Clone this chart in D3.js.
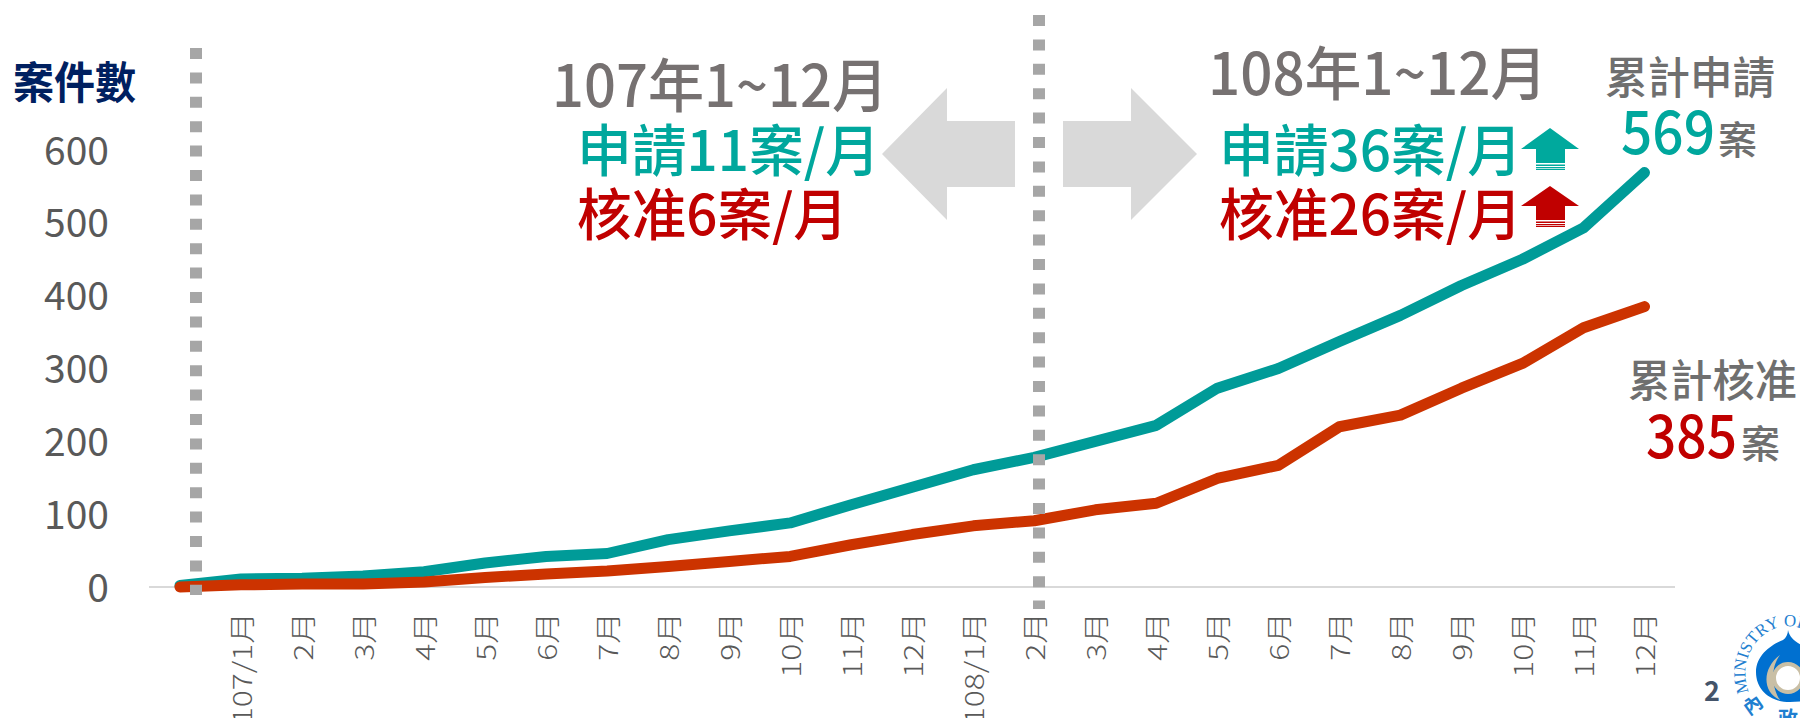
<!DOCTYPE html>
<html><head><meta charset="utf-8">
<script src="https://cdn.jsdelivr.net/npm/d3@7"></script>
<style>
html,body{margin:0;padding:0;background:#fff;overflow:hidden}
svg{display:block}
text{font-family:"Noto Sans CJK TC","Noto Sans",sans-serif}
.domain{display:none}
</style></head><body>
<svg id="c" width="1800" height="718"></svg>
<script>
const monthLabels = ["","107/1月","2月","3月","4月","5月","6月","7月","8月","9月","10月","11月","12月","108/1月","2月","3月","4月","5月","6月","7月","8月","9月","10月","11月","12月"];
const applied  = [2,11,12,15,21,33,42,46,65,77,88,113,137,161,178,200,222,273,300,337,373,414,450,493,569];
const approved = [0,3,4,4,7,13,18,22,28,35,42,58,72,84,91,106,115,149,167,220,236,273,307,356,385];
const yTicks = [0,100,200,300,400,500,600];

const svg = d3.select("#c");
const x = d3.scaleLinear().domain([0,24]).range([180,1644.5]);
const y = d3.scaleLinear().domain([0,600]).range([587,150]);

// y axis
const gy = svg.append("g").attr("transform","translate(109,0)")
  .call(d3.axisLeft(y).tickValues(yTicks).tickSize(0).tickPadding(0));
gy.selectAll("text").attr("font-size",39).attr("fill","#595959").attr("dy","0.36em");

// x axis
svg.append("line").attr("x1",149).attr("x2",1675).attr("y1",587).attr("y2",587).attr("stroke","#d9d9d9").attr("stroke-width",2);
const ax = d3.axisBottom(x).tickValues(d3.range(1,25)).tickSize(0).tickFormat(i=>monthLabels[i]);
const gx = svg.append("g").attr("transform","translate(0,587)").call(ax);
gx.selectAll("text").attr("font-size",26).attr("font-weight",300).attr("fill","#595959")
  .attr("text-anchor","end").attr("dy",null).attr("x",0).attr("y",0)
  .attr("transform","translate(10,25) rotate(-90) scale(1.22,1)");

// lines
const line = d3.line().x((d,i)=>x(i)).y(d=>y(d));
svg.append("path").datum(applied).attr("d",line).attr("fill","none").attr("stroke","#009b98").attr("stroke-width",11).attr("stroke-linecap","round").attr("stroke-linejoin","round");
svg.append("path").datum(approved).attr("d",line).attr("fill","none").attr("stroke","#cc3300").attr("stroke-width",11).attr("stroke-linecap","round").attr("stroke-linejoin","round");

// dividers
[[196,48,595],[1039,15,609]].forEach(([px,a,b])=>svg.append("line").attr("x1",px).attr("x2",px).attr("y1",a).attr("y2",b)
  .attr("stroke","#a6a6a6").attr("stroke-width",12).attr("stroke-dasharray","11 13.4"));

// big arrows
const poly=(pts,f)=>svg.append("polygon").attr("points",pts.map(p=>p.join(",")).join(" ")).attr("fill",f);
poly([[882,154],[947,88],[947,121],[1015,121],[1015,187],[947,187],[947,220]],"#d9d9d9");
poly([[1197,154],[1131,88],[1131,121],[1063,121],[1063,187],[1131,187],[1131,220]],"#d9d9d9");

// small arrows
function up(top,base,sb,color){
  poly([[1550,top],[1579,base],[1565,base],[1565,sb],[1536,sb],[1536,base],[1521,base]],color);
  [[sb+1.5,1.5],[sb+4,1.3],[sb+6,1]].forEach(([yy,h])=>svg.append("rect").attr("x",1536).attr("y",yy).attr("width",29).attr("height",h).attr("fill",color));
}
up(128,149,163,"#00a99d");
up(186,206,220,"#c00000");

// texts
function t(s,x0,x1,base,size,fill,weight){
  const e=svg.append("text").attr("x",x0).attr("y",base).attr("font-size",size).attr("fill",fill).text(s);
  if(weight)e.attr("font-weight",weight);
  e.attr("textLength",x1-x0).attr("lengthAdjust","spacingAndGlyphs");
  return e;
}
const gray="#767171",teal="#00a79d",red="#c00000",sub="#6f6f6f";
t("案件數",13,136,99,44,"#002060",700);
t("107年1~12月",552,888,107,58,gray,500);
t("申請11案/月",577,880,171,56,teal,500);
t("核准6案/月",577,848,235,56,red,500);
t("108年1~12月",1208,1547,95,58,gray,500);
t("申請36案/月",1219,1522,171,56,teal,500);
t("核准26案/月",1219,1522,235,56,red,500);
t("累計申請",1605,1775,94,44,sub,500);
t("569",1621,1715,154,60,teal,500);
t("案",1718,1757,154,39,sub,500);
t("累計核准",1628,1797,397,44,sub,500);
t("385",1646,1737,458,60,red,500);
t("案",1741,1780,458,39,sub,500);
svg.append("text").attr("x",1704).attr("y",701).attr("font-size",27).attr("font-weight",700).attr("fill","#44546a").text("2");

// logo
const logo=svg.append("g");
const defs=svg.append("defs");
defs.append("path").attr("id","ring").attr("d","M1749,692 A43,47 0 1 1 1825,698");
logo.append("path").attr("d","M1788,630 C1790,640 1800,645 1815,652 L1830,700 L1790,702 C1770,702 1756,690 1756,672 C1756,655 1772,644 1783,640 C1786,638 1788,634 1788,630 Z").attr("fill","#0070d0");
logo.append("path").attr("d","M1780,655 C1762,668 1762,692 1780,700 C1772,688 1770,668 1780,655 Z").attr("fill","#c9bfa5");
logo.append("circle").attr("cx",1788).attr("cy",678).attr("r",14).attr("fill","#fff").attr("stroke","#c9bfa5").attr("stroke-width",4);
logo.append("text").attr("font-size",17).attr("fill","#1f7fd0").style("font-family","Liberation Serif")
  .append("textPath").attr("href","#ring").text("MINISTRY OF THE");
logo.append("text").attr("font-size",19).attr("fill","#1f7fd0").attr("font-weight",700).attr("transform","translate(1749,716) rotate(-35)").text("內");
logo.append("text").attr("font-size",20).attr("fill","#1f7fd0").attr("font-weight",700).attr("transform","translate(1778,726)").text("政");
</script>
</body></html>
